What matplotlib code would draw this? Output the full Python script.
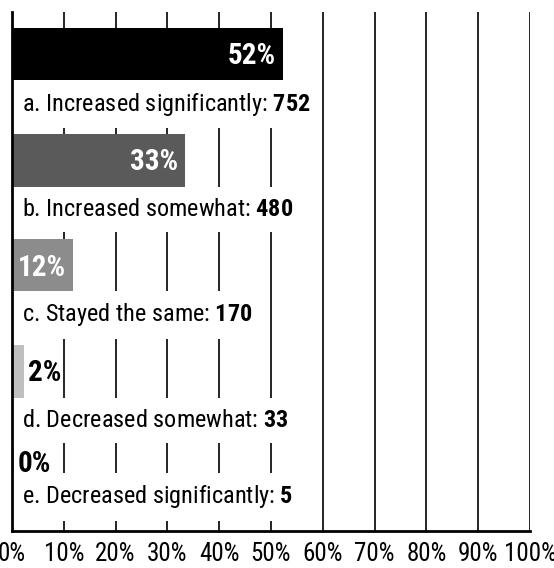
import numpy as np
import matplotlib.pyplot as plt

# survey responses
categories = ["a. Increased significantly", "b. Increased somewhat", "c. Stayed the same",
              "d. Decreased somewhat", "e. Decreased significantly"]
counts = [752, 480, 170, 33, 5]
colors = ["#000000", "#5a5a5a", "#8c8c8c", "#bfbfbf", "#dcdcdc"]
tick_labels = [f"{v}%" for v in range(0, 101, 10)]

plt.rcParams['font.family'] = ['Roboto Condensed', 'Liberation Sans Narrow', 'Roboto', 'DejaVu Sans']
plt.rcParams['mathtext.fontset'] = 'custom'
plt.rcParams['mathtext.rm'] = 'Roboto Condensed'
plt.rcParams['mathtext.bf'] = 'Roboto Condensed:bold'

total = sum(counts)
pcts = [100 * c / total for c in counts]

fig = plt.figure(figsize=(5.54, 5.68), dpi=100)
ax = fig.add_axes([12 / 554, 37 / 568, 518 / 554, 519 / 568])
ax.set_xlim(0, 100)
ax.set_ylim(531, 12)  ## layout units (top to bottom)

# stacked row layout: bar, label strip, gap
top = 28
for i, (cat, n, p, col) in enumerate(zip(categories, counts, pcts, colors)):
    shown = round(p)
    bar_h = 57 if shown > 0 else 28
    ax.barh(top + bar_h / 2, p, height=bar_h, color=col, zorder=2)
    if shown >= 10:
        ax.annotate(f"{shown}%", (p, top + bar_h / 2), xytext=(-5, 0), textcoords="offset points",
                    ha="right", va="center", color="white", fontsize=21, fontweight="bold", zorder=4)
    else:
        ax.annotate(f"{shown}%", (p, top + bar_h / 2), xytext=(3, 0), textcoords="offset points",
                    ha="left", va="center", color="black", fontsize=21, fontweight="bold", zorder=4)
    lab_y = top + bar_h + 19
    ax.annotate(f"{cat}: $\\mathbf{{{n}}}$", (0, lab_y), xytext=(7, 0), textcoords="offset points",
                ha="left", va="center", fontsize=17.5, zorder=3,
                bbox=dict(boxstyle="square,pad=0.45", fc="white", ec="none"))
    top += bar_h + 48.5

ax.set_xticks(range(0, 101, 10))
ax.set_xticklabels(tick_labels)
ax.set_yticks([])
ax.tick_params(axis="x", length=0, pad=8, labelsize=18)
ax.grid(axis="x", color="black", lw=1.2)
ax.set_axisbelow(True)
for s in ["top", "right"]:
    ax.spines[s].set_visible(False)
for s in ["left", "bottom"]:
    ax.spines[s].set_linewidth(2)
    ax.spines[s].set_zorder(5)

fig.savefig("out.png", dpi=100)
